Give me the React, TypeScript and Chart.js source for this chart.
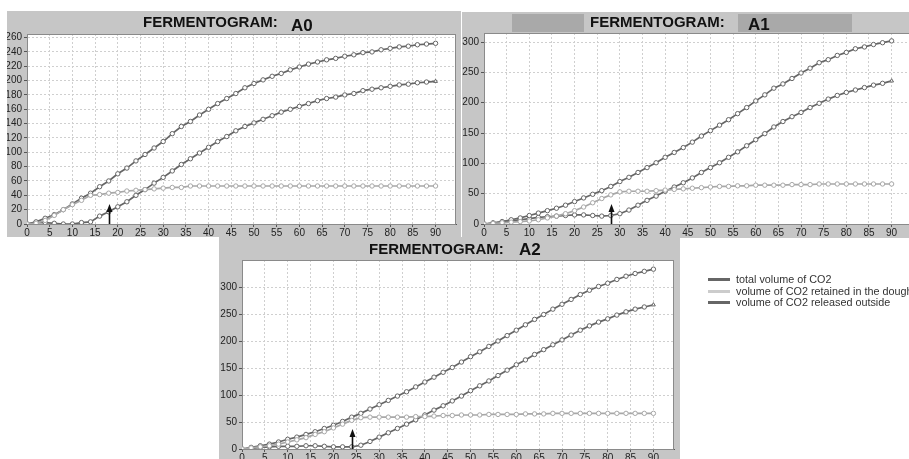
import React, { useEffect, useRef } from "react";
import { Chart, registerables } from "chart.js";
Chart.register(...registerables);

// ---- data ----
const minutes = [0,2,4,6,8,10,12,14,16,18,20,22,24,26,28,30,32,34,36,38,40,42,44,46,48,50,52,54,56,58,60,62,64,66,68,70,72,74,76,78,80,82,84,86,88,90];
const xTicks = [0,5,10,15,20,25,30,35,40,45,50,55,60,65,70,75,80,85,90];

const a0Total = [0,3,8,13,20,28,36,43,52,60,70,78,88,97,106,115,126,136,143,152,160,168,175,182,190,196,201,206,210,215,219,223,226,229,231,234,236,239,240,243,245,247,248,250,251,252];
const a0Retained = [0,1,5,12,20,27,33,40,41,43,44,46,47,48,49,50,51,51,53,53,53,53,53,53,53,53,53,53,53,53,53,53,53,53,53,53,53,53,53,53,53,53,53,53,53,53];
const a0Released = [0,2,2,1,0,0,2,3,11,17,24,31,40,48,57,65,74,83,91,99,107,115,122,130,136,141,146,151,156,160,164,168,172,175,177,180,182,186,188,190,192,194,195,197,198,199];
const a0YTicks = [0,20,40,60,80,100,120,140,160,180,200,220,240,260];

const a1Total = [0,2,4,7,10,14,18,22,26,31,37,43,49,55,62,70,77,85,93,101,110,118,126,135,145,154,163,172,182,192,203,213,224,231,240,249,257,266,271,278,283,289,292,296,299,302];
const a1Retained = [0,1,2,3,4,5,7,10,13,17,22,28,35,42,48,53,54,54,54,55,56,57,58,59,60,61,62,62,63,63,64,64,64,64,65,65,65,66,66,66,66,66,66,66,66,66];
const a1Released = [0,1,3,5,7,9,11,12,13,14,15,15,14,13,14,17,23,31,39,46,54,61,68,76,85,93,101,110,119,129,139,149,160,169,177,184,192,199,206,212,217,221,225,229,232,236];
const a1YTicks = [0,50,100,150,200,250,300];

const a2Total = [0,3,6,9,13,18,22,27,32,38,44,51,59,66,74,82,90,98,106,115,124,133,142,151,161,171,180,190,200,210,220,230,240,249,259,268,277,286,294,301,307,314,320,325,329,333];
const a2Retained = [0,2,4,6,9,13,17,21,27,32,39,46,53,58,59,59,59,59,59,60,60,61,62,62,63,63,63,64,64,64,64,65,65,65,66,66,66,66,66,66,66,66,66,66,66,66];
const a2Released = [0,1,3,4,5,5,5,6,6,5,4,4,4,7,14,22,30,38,46,54,63,72,80,89,98,108,117,126,136,146,156,165,175,184,193,202,211,220,228,235,241,248,254,259,263,267];
const a2YTicks = [0,50,100,150,200,250,300];

const arrowMinutes = [18, 28, 24];
const seriesNames = ["total volume of CO2", "volume of CO2 retained in the dough", "volume of CO2 released outside"];
const chartNames = ["A0", "A1", "A2"];

// ---- styles ----
const PANEL = "#c6c6c6";
const DARK = "#666666";
const LIGHT = "#a8a8a8";
const FONT = "'Liberation Sans', Arial, sans-serif";

type PanelCfg = {
  left: number; top: number; w: number; h: number;
  padTop: number; padRight: number; yW: number; xH: number;
  yMax: number; yTicks: number[];
  total: number[]; retained: number[]; released: number[];
  arrow: number;
};

const panels: PanelCfg[] = [
  { left: 7, top: 11, w: 454, h: 226, padTop: 23, padRight: 2, yW: 20, xH: 13, yMax: 265, yTicks: a0YTicks, total: a0Total, retained: a0Retained, released: a0Released, arrow: arrowMinutes[0] },
  { left: 462, top: 12, w: 455, h: 226, padTop: 21, padRight: 2, yW: 22, xH: 14, yMax: 315, yTicks: a1YTicks, total: a1Total, retained: a1Retained, released: a1Released, arrow: arrowMinutes[1] },
  { left: 219, top: 237, w: 461, h: 226, padTop: 23, padRight: 6, yW: 23, xH: 14, yMax: 350, yTicks: a2YTicks, total: a2Total, retained: a2Retained, released: a2Released, arrow: arrowMinutes[2] },
];

const framePlugin = {
  id: "frame",
  beforeDraw(chart: any) {
    const { ctx, chartArea: a } = chart;
    ctx.save();
    ctx.fillStyle = "#ffffff";
    ctx.fillRect(a.left, a.top, a.right - a.left, a.bottom - a.top);
    ctx.restore();
  },
  beforeDatasetsDraw(chart: any) {
    const { ctx, chartArea: a } = chart;
    ctx.save();
    ctx.strokeStyle = "#8a8a8a";
    ctx.lineWidth = 1;
    ctx.strokeRect(a.left + 0.5, a.top + 0.5, a.right - a.left - 1, a.bottom - a.top);
    ctx.restore();
  },
  afterDatasetsDraw(chart: any) {
    const arrow = chart.options.plugins.frame.arrow;
    const { ctx, chartArea: a } = chart;
    const x = Math.round(chart.scales.x.getPixelForValue(arrow)) + 0.5;
    const yb = a.bottom;
    const yt = a.bottom - 20;
    ctx.save();
    ctx.strokeStyle = "#111";
    ctx.fillStyle = "#111";
    ctx.lineWidth = 1.6;
    ctx.beginPath();
    ctx.moveTo(x, yb);
    ctx.lineTo(x, yt + 5);
    ctx.stroke();
    ctx.beginPath();
    ctx.moveTo(x, yt);
    ctx.lineTo(x - 3, yt + 8);
    ctx.lineTo(x + 3, yt + 8);
    ctx.closePath();
    ctx.fill();
    ctx.restore();
  },
};

function makeDataset(label: string, values: number[], color: string, lastTriangle: boolean) {
  return {
    label,
    data: minutes.map((m, i) => ({ x: m, y: values[i] })),
    borderColor: color,
    backgroundColor: "#ffffff",
    borderWidth: 1.7,
    pointRadius: 2.2,
    pointBorderWidth: 1,
    pointBorderColor: color,
    pointBackgroundColor: "#ffffff",
    pointStyle: minutes.map((_, i) => (lastTriangle && i === minutes.length - 1 ? "triangle" : "circle")),
    tension: 0,
  };
}

function PanelChart({ cfg }: { cfg: PanelCfg }) {
  const ref = useRef<HTMLCanvasElement | null>(null);
  useEffect(() => {
    if (!ref.current) return;
    const tickFont = { family: FONT, size: 10 };
    const chart = new Chart(ref.current, {
      type: "line",
      data: {
        datasets: [
          makeDataset(seriesNames[1], cfg.retained, LIGHT, false),
          makeDataset(seriesNames[0], cfg.total, DARK, false),
          makeDataset(seriesNames[2], cfg.released, DARK, true),
        ],
      },
      plugins: [framePlugin],
      options: {
        responsive: false,
        maintainAspectRatio: false,
        animation: false,
        layout: { padding: { left: 0, top: cfg.padTop, right: cfg.padRight, bottom: 0 } },
        plugins: {
          legend: { display: false },
          tooltip: { enabled: false },
          title: { display: false },
          frame: { arrow: cfg.arrow },
        } as any,
        scales: {
          x: {
            type: "linear",
            min: 0,
            max: 94.5,
            afterBuildTicks: (s: any) => { s.ticks = xTicks.map((v) => ({ value: v })); },
            afterFit: (s: any) => { s.height = cfg.xH; },
            grid: { color: "#cfcfcf", tickColor: "#555", tickLength: 3, drawOnChartArea: true },
            border: { display: true, color: "#555", dash: [2, 2] },
            ticks: { font: tickFont, color: "#222", padding: 0, maxRotation: 0, autoSkip: false },
          },
          y: {
            type: "linear",
            min: 0,
            max: cfg.yMax,
            afterBuildTicks: (s: any) => { s.ticks = cfg.yTicks.map((v) => ({ value: v })); },
            afterFit: (s: any) => { s.width = cfg.yW; },
            grid: { color: "#cfcfcf", tickColor: "#555", tickLength: 3 },
            border: { display: true, color: "#555", dash: [2, 2] },
            ticks: { font: tickFont, color: "#222", padding: 2, autoSkip: false },
          },
        },
      } as any,
    });
    return () => chart.destroy();
  }, [cfg]);
  return (
    <canvas
      ref={ref}
      width={cfg.w}
      height={cfg.h}
      style={{ position: "absolute", left: 0, top: 0, width: cfg.w, height: cfg.h }}
    />
  );
}

function Panel({ cfg, clipW, clipH }: { cfg: PanelCfg; clipW: number; clipH: number }) {
  return (
    <div
      style={{
        position: "absolute",
        left: cfg.left,
        top: cfg.top,
        width: clipW,
        height: clipH,
        background: PANEL,
        overflow: "hidden",
      }}
    >
      <PanelChart cfg={cfg} />
    </div>
  );
}

const titleStyle = (left: number, top: number, size: number): React.CSSProperties => ({
  position: "absolute",
  left,
  top,
  fontFamily: FONT,
  fontWeight: "bold",
  fontSize: size,
  lineHeight: `${size}px`,
  color: "#111",
  whiteSpace: "nowrap",
});

export default function App() {
  return (
    <div
      style={{
        position: "absolute",
        left: 0,
        top: 0,
        width: 909,
        height: 459,
        background: "#ffffff",
        overflow: "hidden",
      }}
    >
      <Panel cfg={panels[0]} clipW={454} clipH={226} />
      <Panel cfg={panels[1]} clipW={447} clipH={226} />
      <Panel cfg={panels[2]} clipW={461} clipH={222} />

      {/* titles */}
      <div style={titleStyle(143, 14.3, 15)}>FERMENTOGRAM:</div>
      <div style={titleStyle(291, 16.6, 17)}>{chartNames[0]}</div>

      <div style={{ position: "absolute", left: 512, top: 14, width: 72, height: 18, background: "#a9a9a9" }} />
      <div style={{ position: "absolute", left: 738, top: 14, width: 114, height: 18, background: "#a9a9a9" }} />
      <div style={titleStyle(590, 14, 15)}>FERMENTOGRAM:</div>
      <div style={titleStyle(748, 16.3, 17)}>{chartNames[1]}</div>

      <div style={titleStyle(369, 240.6, 15)}>FERMENTOGRAM:</div>
      <div style={titleStyle(519, 241.3, 17)}>{chartNames[2]}</div>

      {/* legend */}
      {[DARK, "#cccccc", DARK].map((c, i) => (
        <React.Fragment key={i}>
          <div style={{ position: "absolute", left: 708, top: 278 + i * 11.5, width: 22, height: 3, background: c }} />
          <div
            style={{
              position: "absolute",
              left: 736,
              top: 273 + i * 11.5,
              fontFamily: FONT,
              fontSize: 10.8,
              lineHeight: "12px",
              color: "#333",
              whiteSpace: "nowrap",
            }}
          >
            {seriesNames[i]}
          </div>
        </React.Fragment>
      ))}
    </div>
  );
}
